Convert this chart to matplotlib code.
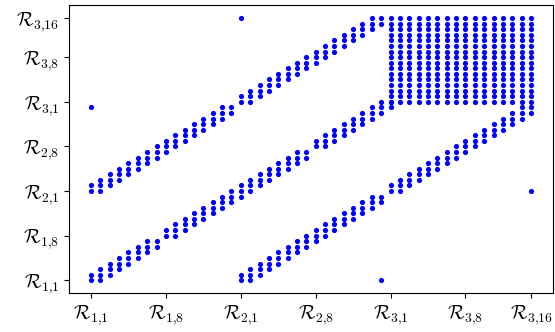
import matplotlib
matplotlib.use("Agg")
import matplotlib.pyplot as plt

plt.rcParams['mathtext.fontset'] = 'cm'

# tick positions and labels (same on both axes)
tick_pos = [0, 8, 16, 24, 32, 40, 47]
tick_labels = [r'$\mathcal{R}_{1{,}1}$', r'$\mathcal{R}_{1{,}8}$', r'$\mathcal{R}_{2{,}1}$',
               r'$\mathcal{R}_{2{,}8}$', r'$\mathcal{R}_{3{,}1}$', r'$\mathcal{R}_{3{,}8}$',
               r'$\mathcal{R}_{3{,}16}$']

# tridiagonal pieces of the pattern: (first row, first col, size)
tri_blocks = [(0, 0, 8), (8, 8, 16), (24, 24, 9),
              (16, 0, 16), (32, 16, 16),
              (0, 16, 16), (16, 32, 16)]
# full block (first index, last index) on both axes
dense_block = (32, 47)
# lone entries (col, row)
single_cols = [0, 31, 16, 47]
single_rows = [31, 0, 47, 16]

xs, ys = [], []
for r0, c0, n in tri_blocks:
    for i in range(n):
        for j in range(n):
            if abs(i - j) <= 1:
                xs.append(c0 + j)
                ys.append(r0 + i)
for c in range(dense_block[0], dense_block[1] + 1):
    for r in range(dense_block[0], dense_block[1] + 1):
        xs.append(c)
        ys.append(r)
xs += single_cols
ys += single_rows

fig = plt.figure(figsize=(5.55, 3.32), dpi=100)
ax = fig.add_axes([0.1243, 0.1163, 0.8721, 0.8687])
ax.scatter(xs, ys, s=14, color='blue', linewidths=0)

ax.set_xticks(tick_pos)
ax.set_xticklabels(tick_labels, fontsize=14)
ax.set_yticks(tick_pos)
ax.set_yticklabels(tick_labels, fontsize=14)

fig.savefig('out.png', dpi=100)
